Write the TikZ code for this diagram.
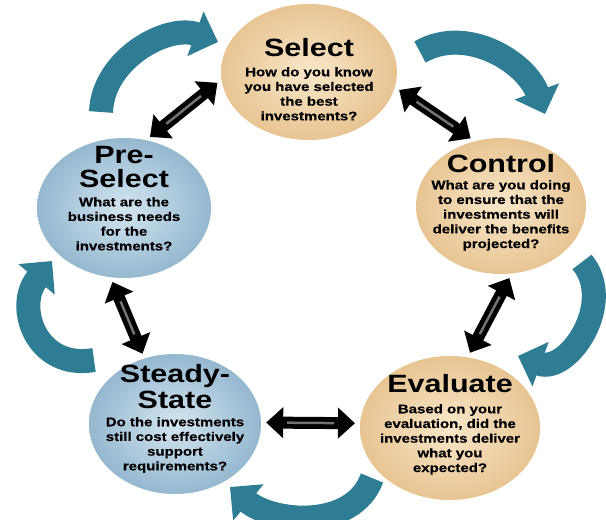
\documentclass[tikz,border=0pt]{standalone}
\usepackage{fontspec}
\newfontfamily\headfont{Liberation Sans Bold}[FakeStretch=1.22]
\newfontfamily\bodyfont{Liberation Sans Bold}[FakeStretch=1.2,FakeBold=0.4]
\usetikzlibrary{shapes.geometric,arrows.meta,positioning}
\definecolor{peachin}{HTML}{F9E7C9}
\definecolor{peachout}{HTML}{E8C492}
\definecolor{bluein}{HTML}{D3E5F0}
\definecolor{blueout}{HTML}{95B8D0}
\definecolor{cyctone}{HTML}{2F7D95}

\tikzset{
  phase/.style={ellipse, inner sep=0pt},
  warm/.style={phase, inner color=peachin, outer color=peachout},
  cool/.style={phase, inner color=bluein, outer color=blueout},
  ttl/.style={anchor=base, inner sep=0pt, font=\headfont\fontsize{25}{22.5}\selectfont},
  body/.style={anchor=north, inner sep=0pt, align=center, font=\bodyfont\fontsize{12.5}{14.7}\selectfont},
  twoway/.style={line width=12pt, {Triangle[width=30pt,length=17pt]}-{Triangle[width=30pt,length=17pt]}, shorten >=5pt, shorten <=5pt},
  hilite/.style={draw=black!55, line width=2.5pt, shorten >=26pt, shorten <=26pt},
  cyc/.style={draw=cyctone, line width=24pt, -{Triangle[width=46pt,length=24pt]}}
}

\begin{document}
\begin{tikzpicture}[x=1pt,y=1pt]
\useasboundingbox[fill=white] (0,0) rectangle (606,520);

% the five phases
\node[warm, minimum width=176pt, minimum height=136pt] (sel) at (309,448) {};
\node[warm, minimum width=170pt, minimum height=136pt] (con) at (501,314) {};
\node[cool, minimum width=174pt, minimum height=140pt] (pre) at (124,312) {};
\node[cool, minimum width=172pt, minimum height=140pt] (ste) at (175,96) {};
\node[warm, minimum width=180pt, minimum height=144pt] (eva) at (450,92) {};

\node[ttl] (selT) at (309,463) {Select};
\node[body] (selB) at (309,453) {How do you know\\you have selected\\the best\\investments?};
\node[ttl] (conT) at (501,347) {Control};
\node[body] (conB) at (501,340) {What are you doing\\to ensure that the\\investments will\\deliver the benefits\\projected?};
\node[ttl] (preT) at (124,356) {Pre-};
\node[ttl] (preU) at (124,332) {Select};
\node[body] (preB) at (124,323) {What are the\\business needs\\for the\\investments?};
\node[ttl] (steT) at (175,137) {Steady-};
\node[ttl] (steU) at (175,111) {State};
\node[body] (steB) at (175,103) {Do the investments\\still cost effectively\\support\\requirements?};
\node[ttl] (evaT) at (450,127) {Evaluate};
\node[body] (evaB) at (450,116) {Based on your\\evaluation, did the\\investments deliver\\what you\\expected?};

% two-way arrows
\draw[twoway] (sel.185) -- (pre.72);
\draw[twoway] (sel.350) -- (con.112);
\draw[twoway] (pre.259) -- (ste.115);
\draw[twoway] (con.279) -- (eva.76);
\draw[twoway] (ste.1) -- (eva.177);
\draw[hilite] (sel.185) -- (pre.72);
\draw[hilite] (sel.350) -- (con.112);
\draw[hilite] (pre.259) -- (ste.115);
\draw[hilite] (con.279) -- (eva.76);
\draw[hilite] (ste.1) -- (eva.177);

% outer cycle
\coordinate (aT) at (101,408); \coordinate (aH) at (218,478);
\coordinate (bT) at (420,468); \coordinate (bH) at (545,406);
\coordinate (cT) at (582,258); \coordinate (cH) at (518,164);
\coordinate (dT) at (372,42);  \coordinate (dH) at (230,33);
\coordinate (eT) at (94,160);  \coordinate (eH) at (52,259);
\draw[cyc] (aT) to[out=88,in=160] (aH);
\draw[cyc] (bT) to[out=30,in=110] (bH);
\draw[cyc] (cT) to[out=-50,in=-20,looseness=1.2] (cH);
\draw[cyc] (dT) to[out=-110,in=-40] (dH);
\draw[cyc] (eT) to[out=190,in=-130,looseness=1.4] (eH);
\end{tikzpicture}
\end{document}
